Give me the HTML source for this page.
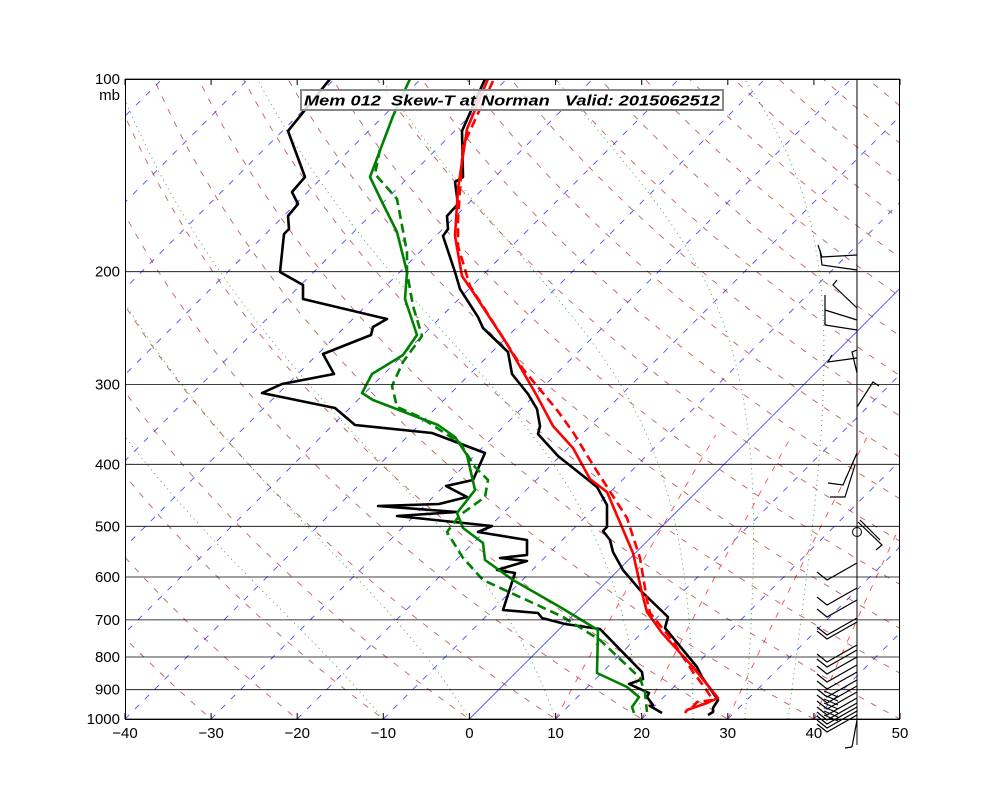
<!DOCTYPE html>
<html><head><meta charset="utf-8"><style>
body{margin:0;background:#fff;width:1000px;height:800px;overflow:hidden;font-family:"Liberation Sans",sans-serif}
svg text{font-family:"Liberation Sans",sans-serif}
</style></head><body>
<svg id="s" width="1000" height="800" xmlns="http://www.w3.org/2000/svg">
<defs><clipPath id="c"><rect x="125" y="79" width="775" height="640"/></clipPath></defs>
<rect width="1000" height="800" fill="#fff"/>
<g id="bg" clip-path="url(#c)"></g>
<g id="data" clip-path="url(#c)" fill="none" stroke-width="2.6" stroke-linejoin="round">
<polyline stroke="#000" points="330,79 288,131 305,177 292,192 298,204 288,216 289,229 284,234 280,272 303,285 303,299 387,319 373,327 371,335 323,354 334,374 282,384 262,393 335,408 355,425 432,433 485,453 473,480 446,486 467,497 439,504 378,506 457,512 397,516 492,526 478,532 527,540 527,555 500,558 527,561 497,570 515,573 503,610 538,613 542,618 565,624 600,629 642,672 643,679 629,684 649,693 647,697 653,705 650,706 662,713"/>
<polyline stroke="#008000" points="410,79 393,116 370,177 383,204 397,232 407,272 405,299 417,335 403,355 372,374 362,393 373,400 438,425 455,437 467,455 475,490 457,513 463,528 483,543 485,560 513,580 560,607 598,630 597,673 627,687 639,697 632,707 634,713"/>
<polyline stroke="#008000" stroke-dasharray="9,5" points="380,149 375,174 397,199 407,252 407,272 413,306 422,336 403,362 392,386 397,407 420,417 460,443 475,467 488,480 485,497 460,515 447,532 463,558 483,580 533,603 563,617 600,640 640,678 645,693 647,712"/>
<polyline stroke="#000" points="485,79 462,131 463,177 455,182 458,204 447,216 448,229 443,236 455,272 460,289 478,317 483,328 508,352 512,374 528,394 537,409 540,426 538,434 558,456 587,479 597,487 607,505 607,527 603,531 610,540 613,552 623,570 640,590 668,617 665,628 697,667 702,677 718,700 713,708 713,712 708,715"/>
<polyline stroke="#f00" points="488,79 467,129 458,189 455,236 462,276 473,292 507,344 537,396 553,426 573,448 590,479 607,492 633,553 642,593 647,612 662,633 693,667 718,698 707,703 687,710 685,713"/>
<polyline stroke="#f00" stroke-dasharray="9,5" points="493,81 463,146 458,219 458,246 470,286 523,369 557,410 573,432 593,465 627,518 640,558 647,600 650,613 672,640 693,672 705,688 713,700 697,702 690,710"/>
</g>
<g id="fg"></g>
<rect x="301" y="90" width="422" height="20" fill="#fff" fill-opacity="0.85" stroke="#888" stroke-width="2"/>
<text x="304" y="105.5" font-size="15" font-weight="bold" font-style="italic" xml:space="preserve" textLength="416" lengthAdjust="spacingAndGlyphs">Mem 012  Skew-T at Norman   Valid: 2015062512</text>
<rect x="125.5" y="79.5" width="774" height="640" fill="none" stroke="#000" stroke-width="1"/>
</svg>
<script>
const NS="http://www.w3.org/2000/svg";
const bg=document.getElementById('bg'),fg=document.getElementById('fg');
const Y=p=>719-640*Math.log10(1000/p);
const X=(T,y)=>125+(T+40)*8.6111+(719-y);
function pl(g,pts,st,dash,w,op){const e=document.createElementNS(NS,'polyline');e.setAttribute('points',pts.map(q=>q[0].toFixed(1)+','+q[1].toFixed(1)).join(' '));e.setAttribute('fill','none');e.setAttribute('stroke',st);e.setAttribute('stroke-width',w||0.8);if(dash)e.setAttribute('stroke-dasharray',dash);if(op)e.setAttribute('stroke-opacity',op);g.appendChild(e);}
function tx(x,y,s,a){const e=document.createElementNS(NS,'text');e.setAttribute('x',x);e.setAttribute('y',y);e.setAttribute('font-size','15');e.setAttribute('text-anchor',a||'middle');e.textContent=s;fg.appendChild(e);}
for(let T=-160;T<=50;T+=10){if(T===0)continue;pl(bg,[[X(T,719),719],[X(T,79),79]],'#00f','6,8',0.9,0.7);}
pl(bg,[[X(0,719),719],[X(0,79),79]],'#00f',null,0.9,0.7);
for(let th=-40;th<=220;th+=10){const pts=[];for(let p=1050;p>=95;p-=10){const T=(th+273.15)*Math.pow(p/1000,0.2857)-273.15;const y=Y(p);pts.push([X(T,y),y]);}pl(bg,pts,'#a02020','6,8',0.9,0.7);}
function rs(T,p){const es=6.112*Math.exp(17.67*(T-273.15)/(T-29.65));return 0.622*es/(p-es);}
[-10,0,10,20,26,32,37].forEach(t0=>{let T=t0+273.15,p=1000;const pts=[[X(t0,Y(1000)),Y(1000)]];while(p>100){const r=rs(T,p);const d=(287*T+2.5e6*r)/(p*(1004+2.5e6*2.5e6*r*0.622/(287*T*T)));T-=d*2;p-=2;if(p%10===0){const y=Y(p);pts.push([X(T-273.15,y),y]);}}pl(bg,pts,'#008000','1,4',1,0.7);});
[10,20,30,40,50].forEach(td=>{const e0=6.112*Math.exp(17.67*td/(td+243.5));const pts=[];for(let p=1000;p>=350;p-=20){const e=e0*p/1000;const l=Math.log(e/6.112);const T=243.5*l/(17.67-l);const y=Y(p);pts.push([X(T,y),y]);}pl(bg,pts,'#f00','6,8',0.9,0.7);});
[100,200,300,400,500,600,700,800,900,1000].forEach(p=>{const y=Y(p);pl(fg,[[125,y],[900,y]],'#000',null,0.8);tx(120,y+5,String(p),'end');});
tx(120,100,'mb','end');
for(let T=-40;T<=50;T+=10){const x=125+(T+40)*8.6111;pl(fg,[[x,719],[x,713]],'#000',null,1);pl(fg,[[x,79],[x,85]],'#000',null,1);tx(x,738,String(T===0?0:(T<0?'\u2212'+(-T):T)));}
pl(fg,[[857,79],[857,745]],'#000',null,1);
const B=[[[857,255],[822,257],[818,245]],[[857,270],[822,265],[820,250]],[[857,308],[833,285],[837,280]],[[857,320],[825,310],[825,295]],[[857,330],[825,325],[825,310]],[[857,358],[828,362],[832,355]],[[857,373],[852,352],[857,350]],[[857,407],[873,382],[879,386]],[[857,453],[843,485],[828,483]],[[855,465],[845,497],[830,497]],[[858,522],[882,545],[876,550]],[[860,520],[880,540]],[[852,747],[845,748]],[[857,720],[852,747]]];
B.forEach(b=>pl(fg,b,'#000',null,1.2));
[563,588,600,618,622,645,650,657,665,672,680,686,692,698,703,707,711,715].forEach(y=>{pl(fg,[[857,y],[827,y+17],[817,y+9]],'#000',null,1.2);});
for(let y=693;y<=718;y+=4){pl(fg,[[838,y+4],[824,y-2]],'#000',null,1);}
const c=document.createElementNS(NS,'circle');c.setAttribute('cx',857);c.setAttribute('cy',532);c.setAttribute('r',4.5);c.setAttribute('fill','none');c.setAttribute('stroke','#000');fg.appendChild(c);
</script>
</body></html>
